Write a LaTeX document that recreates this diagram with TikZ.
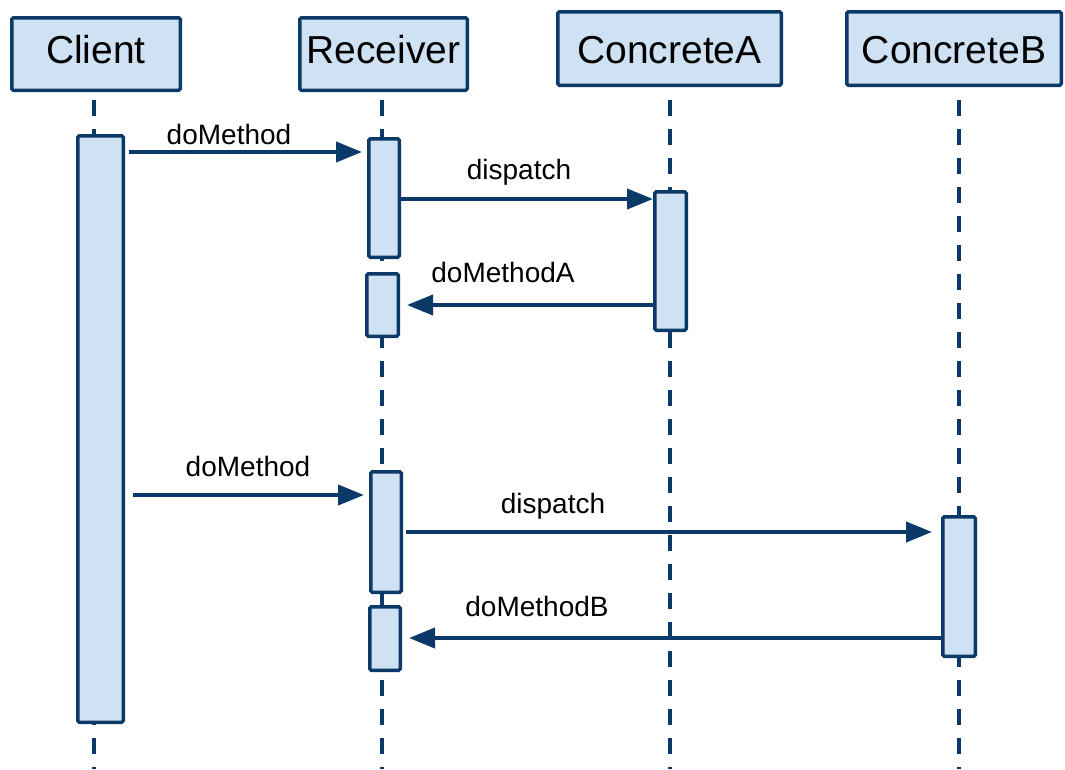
\documentclass[tikz,border=0pt]{standalone}
\usepackage{fontspec}
\setmainfont{Liberation Sans}
\usetikzlibrary{arrows.meta}
\definecolor{navy}{HTML}{0B3A68}
\definecolor{lblue}{HTML}{CFE2F3}
\begin{document}
\begin{tikzpicture}[x=1pt,y=-1pt,
  head/.style={draw=navy, fill=lblue, line width=3.5pt, rounded corners=1.5pt, inner sep=0pt,
    font=\fontsize{39}{39}\selectfont},
  headlow/.style={head, text height=28pt, text depth=10pt},
  headmid/.style={head, text height=29pt, text depth=0pt},
  act/.style={draw=navy, fill=lblue, line width=3.5pt, rounded corners=1.5pt, inner sep=0pt},
  life/.style={draw=navy, line width=4pt, dash pattern=on 16pt off 13pt},
  msg/.style={draw=navy, line width=4pt, -{Triangle[length=26pt,width=20pt]}},
  lbl/.style={font=\fontsize{28}{28}\selectfont, anchor=base, inner sep=0pt}]
\useasboundingbox (0,0) rectangle (1065,769);

% headers
\node[headlow, minimum width=168.5pt, minimum height=72.5pt] (client) at (96,54) {Client};
\node[headlow, minimum width=167.5pt, minimum height=72.5pt] (recv) at (383.5,54) {Receiver};
\node[headmid, minimum width=223.5pt, minimum height=73.5pt] (ca) at (669.5,48.5) {ConcreteA};
\node[headmid, minimum width=214.5pt, minimum height=73.5pt] (cb) at (954,48.5) {ConcreteB};

% lifelines
\coordinate (cl0) at (94,100);  \coordinate (cl1) at (94,769);
\coordinate (rl0) at (382,100); \coordinate (rl1) at (382,769);
\coordinate (al0) at (670,100); \coordinate (al1) at (670,769);
\coordinate (bl0) at (959,100); \coordinate (bl1) at (959,769);
\draw[life] (cl0) -- (cl1);
\draw[life] (rl0) -- (rl1);
\draw[life] (al0) -- (al1);
\draw[life] (bl0) -- (bl1);

% activations
\node[act, minimum width=45.5pt, minimum height=586.5pt] (cact) at (100.5,429) {};
\node[act, minimum width=30.5pt, minimum height=118.5pt] (r1) at (384,198) {};
\node[act, minimum width=31.5pt, minimum height=62.5pt] (r2) at (382.5,305) {};
\node[act, minimum width=31.5pt, minimum height=138.5pt] (aact) at (670.5,261) {};
\node[act, minimum width=30.5pt, minimum height=120.5pt] (r3) at (386,532) {};
\node[act, minimum width=30.5pt, minimum height=63.5pt] (r4) at (385,638.5) {};
\node[act, minimum width=32.5pt, minimum height=139.5pt] (bact) at (959,586.5) {};

% messages
\draw[msg, shorten <=4pt, shorten >=5pt] (cact.east |- 0,152) -- (r1.west |- 0,152);
\draw[msg] (r1.east |- 0,199) -- (aact.west |- 0,199);
\draw[msg, shorten >=7pt] (aact.west |- 0,305) -- (r2.east |- 0,305);
\draw[msg, shorten <=8pt, shorten >=5pt] (cact.east |- 0,495) -- (r3.west |- 0,495);
\draw[msg, shorten <=3pt, shorten >=9pt] (r3.east |- 0,532) -- (bact.west |- 0,532);
\draw[msg, shorten >=7pt] (bact.west |- 0,638) -- (r4.east |- 0,638);

% labels
\node[lbl] (l1) at (229,144) {doMethod};
\node[lbl] (l2) at (519,179) {dispatch};
\node[lbl] (l3) at (503,282) {doMethodA};
\node[lbl] (l4) at (248,476) {doMethod};
\node[lbl] (l5) at (553,513) {dispatch};
\node[lbl] (l6) at (537,616) {doMethodB};
\end{tikzpicture}
\end{document}
